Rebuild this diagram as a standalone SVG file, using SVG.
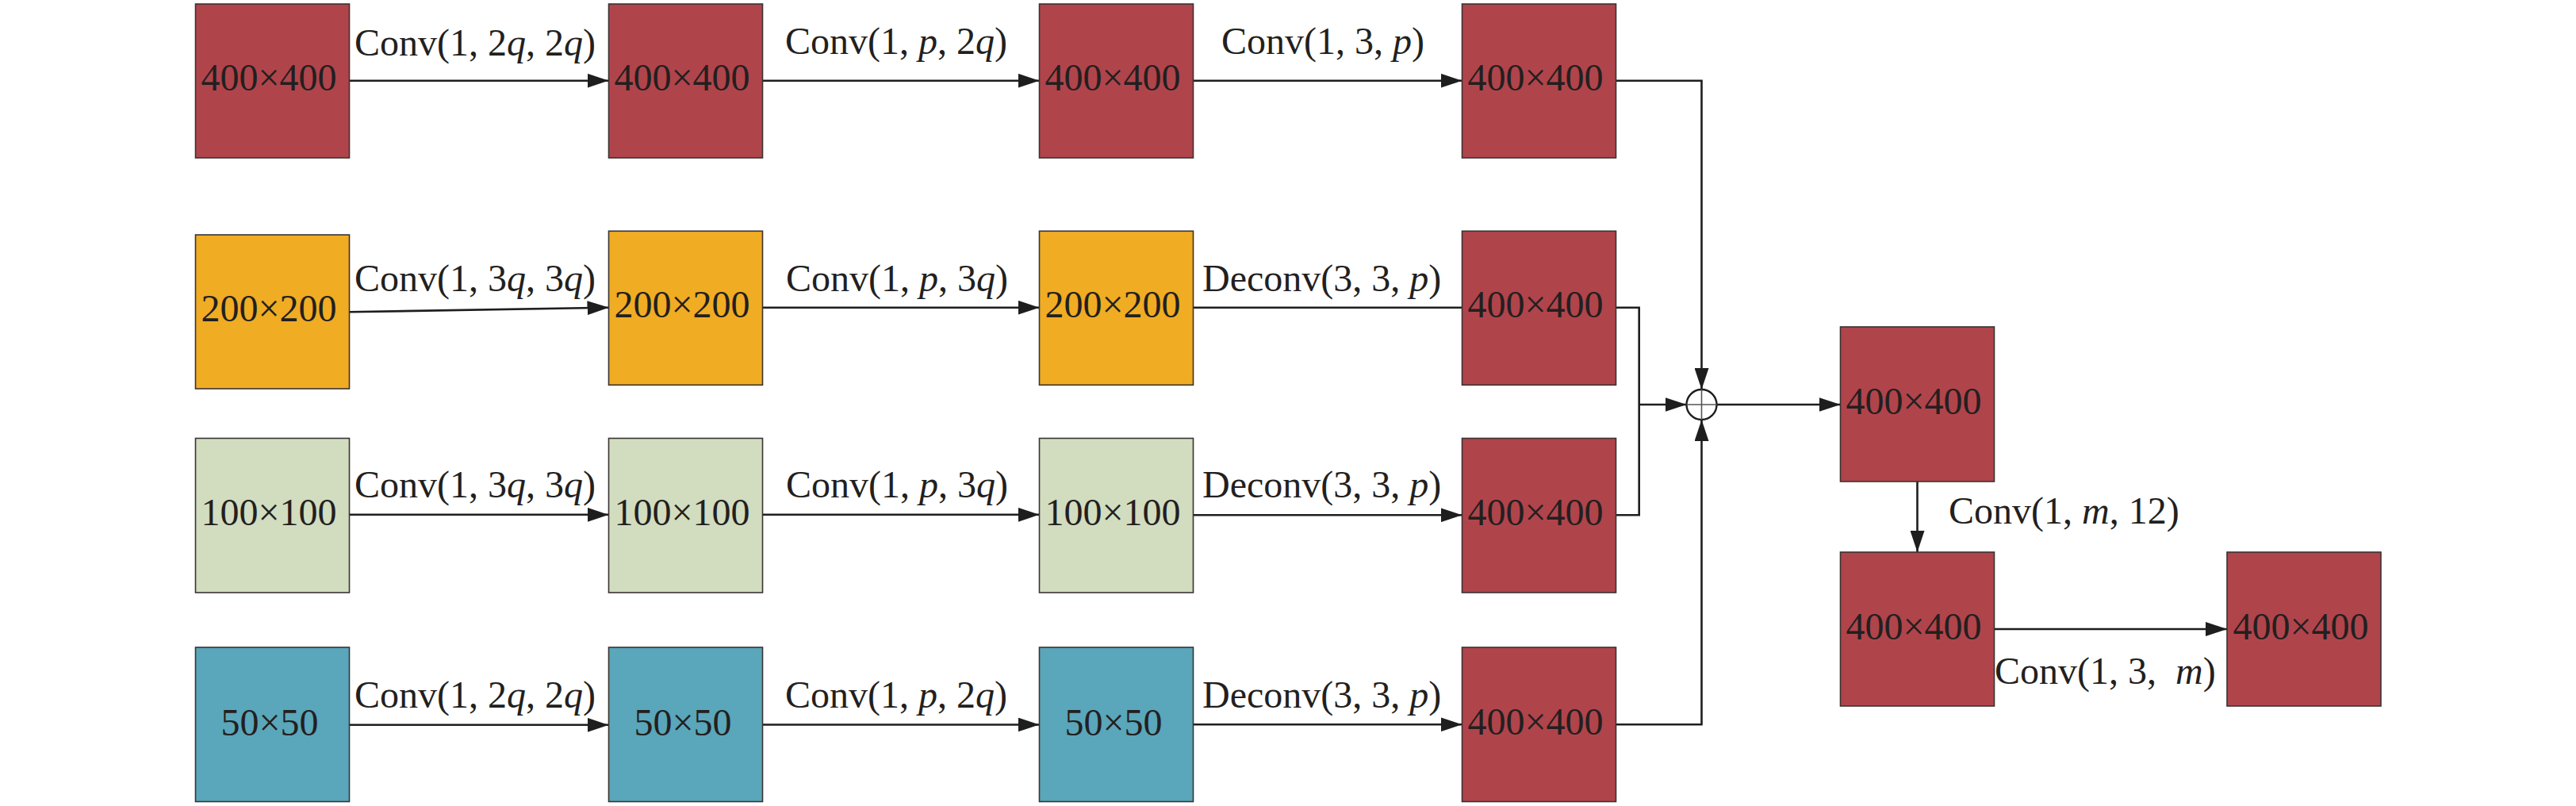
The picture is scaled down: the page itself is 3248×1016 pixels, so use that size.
<svg xmlns="http://www.w3.org/2000/svg" width="3248" height="1016" viewBox="0 0 3248 1016">
<defs>
<style>
.box{stroke:#3a3333;stroke-width:1.6}
.red{fill:#B0444B}
.org{fill:#F0AC23}
.grn{fill:#D2DCBF}
.tel{fill:#5AA6BA}
.bt{font-family:"Liberation Serif","Times New Roman",serif;font-size:48px;fill:#231F20;text-anchor:middle}
.lb{font-family:"Liberation Serif","Times New Roman",serif;font-size:48px;fill:#231F20}
.it{font-style:italic}
.ln{fill:none;stroke:#1e1e1e;stroke-width:2.6}
.ar{fill:none;stroke:#1e1e1e;stroke-width:2.6;marker-end:url(#ah)}
</style>
<marker id="ah" markerUnits="userSpaceOnUse" markerWidth="28" markerHeight="18" refX="27" refY="9" orient="auto">
<path d="M0,0 L27,9 L0,18 Z" fill="#1e1e1e"/>
</marker>
</defs>
<rect width="3248" height="1016" fill="#ffffff"/>

<g id="connectors">
<!-- row 1 -->
<line class="ar" x1="441" y1="101.7" x2="767.5" y2="101.7"/>
<line class="ar" x1="961.5" y1="101.7" x2="1310.5" y2="101.7"/>
<line class="ar" x1="1504.5" y1="101.7" x2="1843.5" y2="101.7"/>
<polyline class="ar" points="2037.5,101.7 2145.5,101.7 2145.5,491"/>
<!-- row 2 -->
<line class="ar" x1="440.5" y1="393.3" x2="767.5" y2="387.7"/>
<line class="ar" x1="961.5" y1="387.7" x2="1310.5" y2="387.7"/>
<line class="ln" x1="1504.5" y1="387.7" x2="1843.5" y2="387.7"/>
<polyline class="ln" points="2037.5,387.7 2066.7,387.7 2066.7,649.3 2037.5,649.3"/>
<line class="ar" x1="2066.7" y1="510" x2="2126.5" y2="510"/>
<!-- row 3 -->
<line class="ar" x1="440.5" y1="648.8" x2="767.5" y2="648.8"/>
<line class="ar" x1="961.5" y1="648.8" x2="1310.5" y2="648.8"/>
<line class="ar" x1="1504.5" y1="649.3" x2="1843.5" y2="649.3"/>
<!-- row 4 -->
<line class="ar" x1="440.5" y1="913.8" x2="767.5" y2="913.8"/>
<line class="ar" x1="961.5" y1="913.5" x2="1310.5" y2="913.5"/>
<line class="ar" x1="1504.5" y1="913.3" x2="1843.5" y2="913.3"/>
<polyline class="ar" points="2037.5,913.3 2145.5,913.3 2145.5,529"/>
<!-- merge -->
<line class="ar" x1="2164.5" y1="510" x2="2320.5" y2="510"/>
<line class="ar" x1="2417.5" y1="607" x2="2417.5" y2="696"/>
<line class="ar" x1="2514.5" y1="793" x2="2808" y2="793"/>
<!-- labels -->
<text class="lb" x="447" y="70">Conv(1, 2<tspan class="it">q</tspan>, 2<tspan class="it">q</tspan>)</text>
<text class="lb" x="990" y="68">Conv(1, <tspan class="it">p</tspan>, 2<tspan class="it">q</tspan>)</text>
<text class="lb" x="1540" y="68">Conv(1, 3, <tspan class="it">p</tspan>)</text>
<text class="lb" x="447" y="367">Conv(1, 3<tspan class="it">q</tspan>, 3<tspan class="it">q</tspan>)</text>
<text class="lb" x="991" y="367">Conv(1, <tspan class="it">p</tspan>, 3<tspan class="it">q</tspan>)</text>
<text class="lb" x="1516" y="367">Deconv(3, 3, <tspan class="it">p</tspan>)</text>
<text class="lb" x="447" y="627">Conv(1, 3<tspan class="it">q</tspan>, 3<tspan class="it">q</tspan>)</text>
<text class="lb" x="991" y="627">Conv(1, <tspan class="it">p</tspan>, 3<tspan class="it">q</tspan>)</text>
<text class="lb" x="1516" y="627">Deconv(3, 3, <tspan class="it">p</tspan>)</text>
<text class="lb" x="447" y="892">Conv(1, 2<tspan class="it">q</tspan>, 2<tspan class="it">q</tspan>)</text>
<text class="lb" x="990" y="892">Conv(1, <tspan class="it">p</tspan>, 2<tspan class="it">q</tspan>)</text>
<text class="lb" x="1516" y="892">Deconv(3, 3, <tspan class="it">p</tspan>)</text>
<text class="lb" x="2457" y="660">Conv(1, <tspan class="it">m</tspan>, 12)</text>
<text class="lb" x="2515" y="862">Conv(1, 3,&#160; <tspan class="it">m</tspan>)</text>
</g>

<g id="sum">
<circle cx="2145.5" cy="510" r="19" fill="#ffffff" stroke="#1e1e1e" stroke-width="2.4"/>
<line x1="2145.5" y1="491" x2="2145.5" y2="529" stroke="#555" stroke-width="1.6"/>
<line x1="2126.5" y1="510" x2="2164.5" y2="510" stroke="#555" stroke-width="1.6"/>
</g>

<g id="r1c1"><rect class="box red" x="246.5" y="5" width="194" height="194"/><text class="bt" x="339" y="114">400×400</text></g>
<g id="r1c2"><rect class="box red" x="767.5" y="5" width="194" height="194"/><text class="bt" x="860" y="114">400×400</text></g>
<g id="r1c3"><rect class="box red" x="1310.5" y="5" width="194" height="194"/><text class="bt" x="1403" y="114">400×400</text></g>
<g id="r1c4"><rect class="box red" x="1843.5" y="5" width="194" height="194"/><text class="bt" x="1936" y="114">400×400</text></g>

<g id="r2c1"><rect class="box org" x="246.5" y="296" width="194" height="194"/><text class="bt" x="339" y="405">200×200</text></g>
<g id="r2c2"><rect class="box org" x="767.5" y="291.3" width="194" height="194"/><text class="bt" x="860" y="400">200×200</text></g>
<g id="r2c3"><rect class="box org" x="1310.5" y="291.3" width="194" height="194"/><text class="bt" x="1403" y="400">200×200</text></g>
<g id="r2c4"><rect class="box red" x="1843.5" y="291.3" width="194" height="194"/><text class="bt" x="1936" y="400">400×400</text></g>

<g id="r3c1"><rect class="box grn" x="246.5" y="552.5" width="194" height="194.5"/><text class="bt" x="339" y="662">100×100</text></g>
<g id="r3c2"><rect class="box grn" x="767.5" y="552.5" width="194" height="194.5"/><text class="bt" x="860" y="662">100×100</text></g>
<g id="r3c3"><rect class="box grn" x="1310.5" y="552.5" width="194" height="194.5"/><text class="bt" x="1403" y="662">100×100</text></g>
<g id="r3c4"><rect class="box red" x="1843.5" y="552.5" width="194" height="194.5"/><text class="bt" x="1936" y="662">400×400</text></g>

<g id="r4c1"><rect class="box tel" x="246.5" y="816" width="194" height="194.5"/><text class="bt" x="340" y="927">50×50</text></g>
<g id="r4c2"><rect class="box tel" x="767.5" y="816" width="194" height="194.5"/><text class="bt" x="861" y="927">50×50</text></g>
<g id="r4c3"><rect class="box tel" x="1310.5" y="816" width="194" height="194.5"/><text class="bt" x="1404" y="927">50×50</text></g>
<g id="r4c4"><rect class="box red" x="1843.5" y="816" width="194" height="194.5"/><text class="bt" x="1936" y="926">400×400</text></g>

<g id="merged"><rect class="box red" x="2320.5" y="412" width="194" height="195"/><text class="bt" x="2413" y="522">400×400</text></g>
<g id="conv12"><rect class="box red" x="2320.5" y="696" width="194" height="194"/><text class="bt" x="2413" y="806">400×400</text></g>
<g id="output"><rect class="box red" x="2808" y="696" width="194" height="194"/><text class="bt" x="2901" y="806">400×400</text></g>
</svg>
